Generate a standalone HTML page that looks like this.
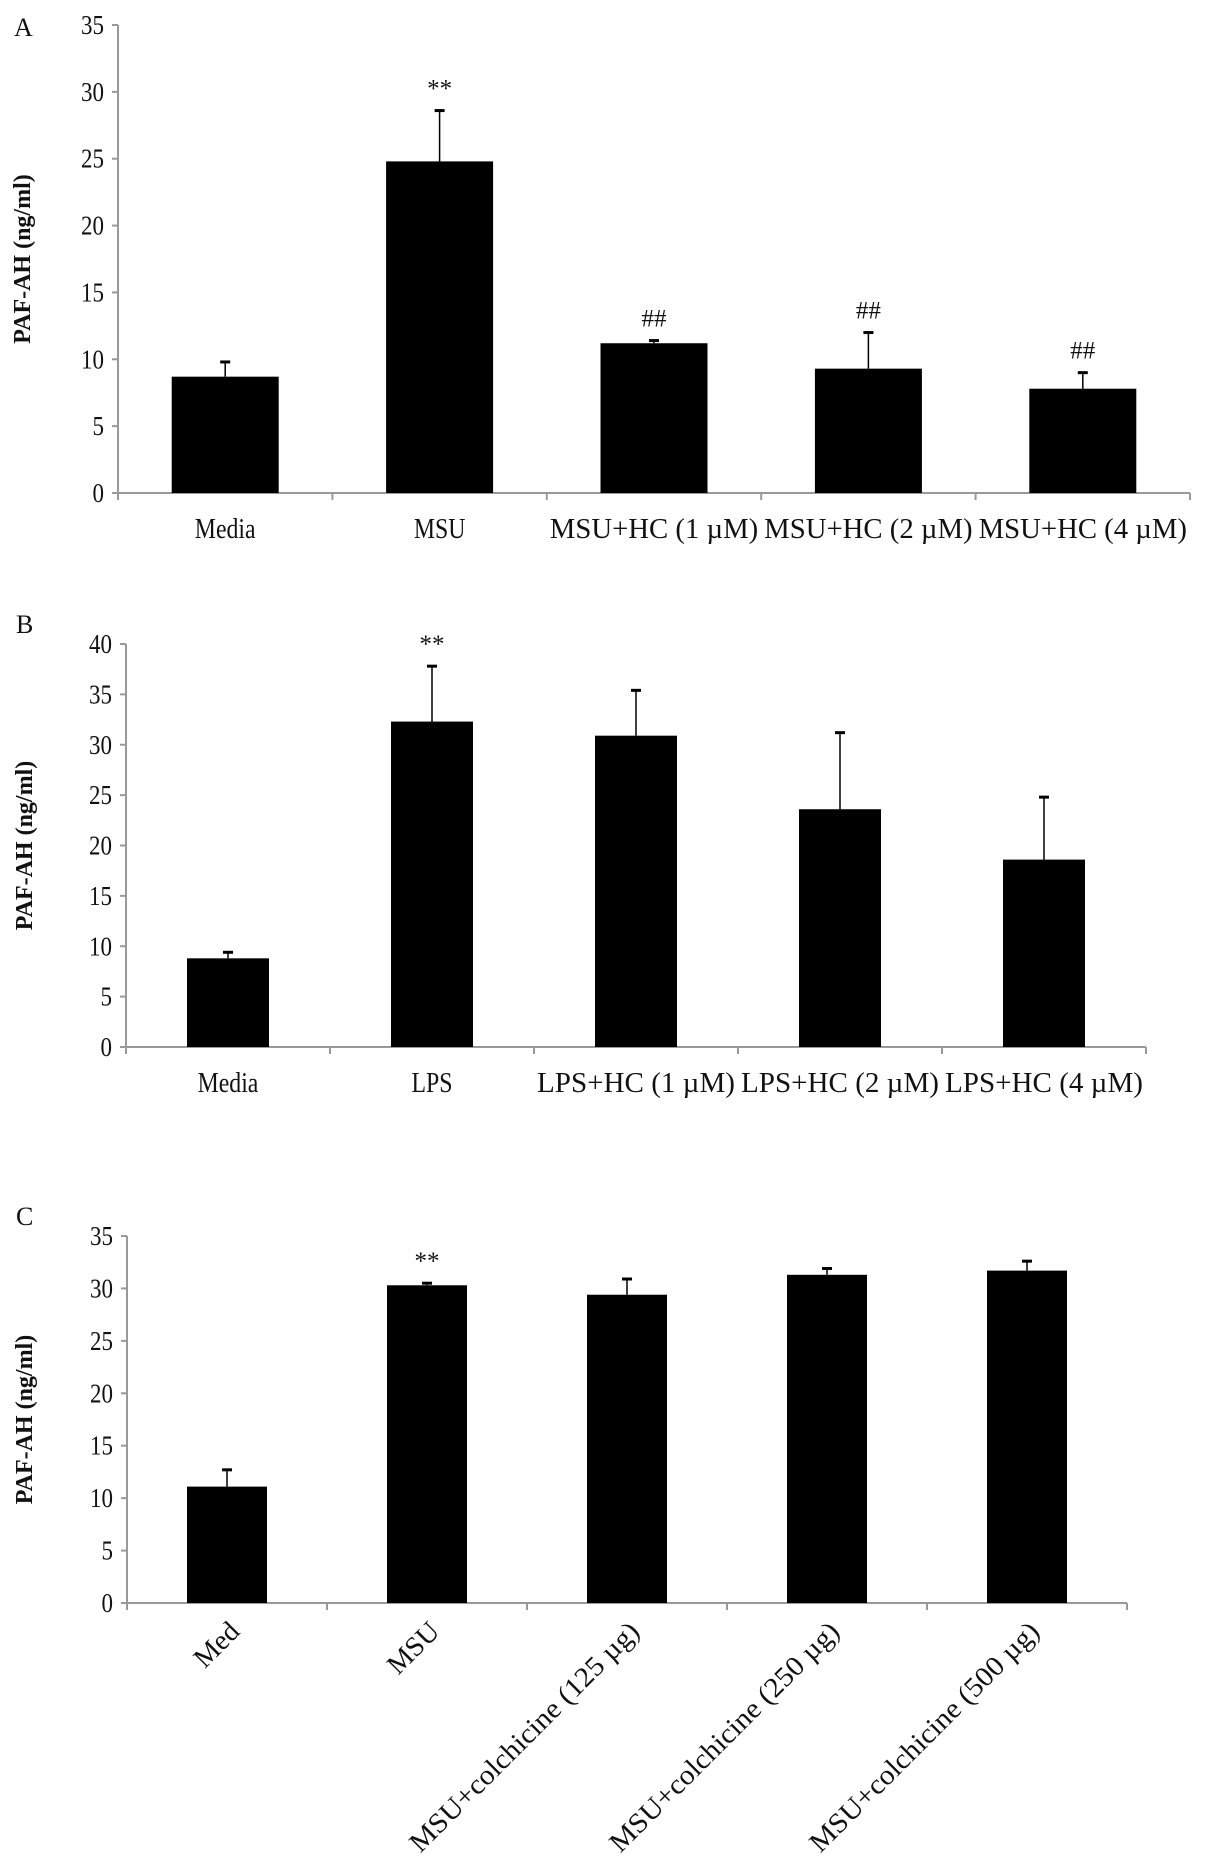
<!DOCTYPE html>
<html><head><meta charset="utf-8">
<style>
html,body{margin:0;padding:0;background:#fff;}
svg{display:block;}
text{font-family:"Liberation Serif",serif;fill:#111;}
</style></head>
<body>
<svg id="fig" width="1205" height="1865" viewBox="0 0 1205 1865" xmlns="http://www.w3.org/2000/svg"></svg>
<script>
// Panel A data
const catsA = ["Media","MSU","MSU+HC (1 \u00b5M)","MSU+HC (2 \u00b5M)","MSU+HC (4 \u00b5M)"];
const valsA = [8.7, 24.8, 11.2, 9.3, 7.8];
const errsA = [1.1, 3.8, 0.2, 2.7, 1.2];
const sigA  = ["", "**", "##", "##", "##"];
const ticksA = [0,5,10,15,20,25,30,35];
// Panel B data
const catsB = ["Media","LPS","LPS+HC (1 \u00b5M)","LPS+HC (2 \u00b5M)","LPS+HC (4 \u00b5M)"];
const valsB = [8.8, 32.3, 30.9, 23.6, 18.6];
const errsB = [0.6, 5.5, 4.5, 7.6, 6.2];
const sigB  = ["", "**", "", "", ""];
const ticksB = [0,5,10,15,20,25,30,35,40];
// Panel C data
const catsC = ["Med","MSU","MSU+colchicine (125 \u00b5g)","MSU+colchicine (250 \u00b5g)","MSU+colchicine (500 \u00b5g)"];
const valsC = [11.1, 30.3, 29.4, 31.3, 31.7];
const errsC = [1.6, 0.2, 1.5, 0.6, 0.9];
const sigC  = ["", "**", "", "", ""];
const ticksC = [0,5,10,15,20,25,30,35];

const NS = "http://www.w3.org/2000/svg";
const svg = document.getElementById('fig');
function mk(tag, attrs, parent){
  const e = document.createElementNS(NS, tag);
  for (const k in attrs) e.setAttribute(k, attrs[k]);
  (parent||svg).appendChild(e);
  return e;
}

function panel(cfg){
  const g = mk('g', {});
  
  
  const n = cfg.cats.length;
  const cw = (cfg.x1 - cfg.x0) / n;
  const ymax = cfg.ticks[cfg.ticks.length-1];
  const y = v => cfg.y0 - (v / ymax) * (cfg.y0 - cfg.yTop);
  const xc = i => cfg.x0 + cw * (i + 0.5);

  const lab = mk('text', {x: cfg.letterX, y: cfg.letterY, 'font-size': 26}, g);
  lab.textContent = cfg.id.toUpperCase();
  
  

  const yt = mk('text', {x: 0, y: 0, 'font-size': 24, 'font-weight': 'bold', 'text-anchor': 'middle',
    transform: `translate(${cfg.titleX},${(cfg.y0+cfg.yTop)/2}) rotate(-90)`}, g);
  yt.textContent = 'PAF-AH (ng/ml)';
  
  

  const ya = mk('line', {x1: cfg.x0, y1: y(ymax), x2: cfg.x0, y2: cfg.y0 + 6, stroke: '#999', 'stroke-width': 2}, g);
  
  
  const xa = mk('line', {x1: cfg.x0, y1: cfg.y0, x2: cfg.x1, y2: cfg.y0, stroke: '#999', 'stroke-width': 2}, g);
  
  
  for (let i = 0; i <= n; i++) {
    const tx = cfg.x0 + cw * i;
    const tk = mk('line', {x1: tx, y1: cfg.y0, x2: tx, y2: cfg.y0 + 7, stroke: '#999', 'stroke-width': 2}, g);
    
    
  }
  cfg.ticks.forEach(t => {
    const tk = mk('line', {x1: cfg.x0 - 6, y1: y(t), x2: cfg.x0, y2: y(t), stroke: '#999', 'stroke-width': 2}, g);
    
    
    const tl = mk('text', {x: 0, y: 0, 'font-size': 27, 'text-anchor': 'end',
      transform: `translate(${cfg.x0 - 14},${y(t) + 9}) scale(0.85,1)`}, g);
    tl.textContent = t;
    
    
  });

  cfg.vals.forEach((v, i) => {
    const bx = xc(i) - cfg.bw/2;
    const r = mk('rect', {x: bx, y: y(v), width: cfg.bw, height: cfg.y0 - y(v), fill: '#000'}, g);
    
    
    const top = y(v + cfg.errs[i]);
    const el = mk('line', {x1: xc(i), y1: y(v), x2: xc(i), y2: top, stroke: '#000', 'stroke-width': 1.5}, g);
    
    
    const cap = mk('line', {x1: xc(i) - 5, y1: top, x2: xc(i) + 5, y2: top, stroke: '#000', 'stroke-width': 3}, g);
    
    
    if (cfg.sig[i]) {
      const s = mk('text', {x: xc(i), y: top - 14, 'font-size': 25, 'text-anchor': 'middle'}, g);
      s.textContent = cfg.sig[i];
      
      
    }
    let t;
    const lbl = cfg.cats[i];
    if (cfg.rotate) {
      t = mk('text', {x: 0, y: 0, 'font-size': 28, 'text-anchor': 'end',
        transform: `translate(${xc(i) + 14},${cfg.y0 + 30}) rotate(-45)`}, g);
      if (lbl.length > 6) { t.setAttribute('textLength', 312); t.setAttribute('lengthAdjust', 'spacingAndGlyphs'); }
    } else {
      t = mk('text', {x: xc(i), y: cfg.y0 + 45, 'font-size': 28, 'text-anchor': 'middle'}, g);
      if (lbl.length > 6) { t.setAttribute('textLength', cw - 6); t.setAttribute('lengthAdjust', 'spacingAndGlyphs'); }
      else { t.setAttribute('transform', `translate(${xc(i)},0) scale(0.85,1) translate(${-xc(i)},0)`); }
    }
    t.textContent = lbl;
    
    
  });
}

panel({id:'a', cats:catsA, vals:valsA, errs:errsA, sig:sigA, ticks:ticksA,
  x0:118, x1:1190, y0:493, yTop:25, bw:107, letterX:14, letterY:36, titleX:30});
panel({id:'b', cats:catsB, vals:valsB, errs:errsB, sig:sigB, ticks:ticksB,
  x0:126, x1:1146, y0:1047, yTop:644, bw:82, letterX:16, letterY:633, titleX:32});
panel({id:'c', cats:catsC, vals:valsC, errs:errsC, sig:sigC, ticks:ticksC,
  x0:127, x1:1127, y0:1603, yTop:1236, bw:80, letterX:16, letterY:1225, titleX:32, rotate:true});
</script>
</body></html>
